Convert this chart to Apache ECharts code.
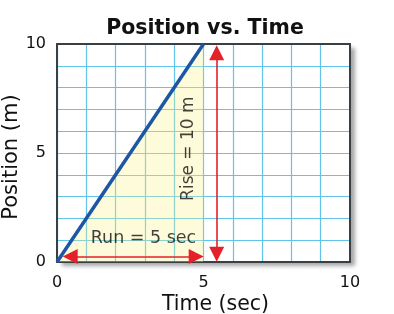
<!DOCTYPE html>
<html><head><meta charset="utf-8">
<script src="https://cdn.jsdelivr.net/npm/echarts@6/dist/echarts.min.js"></script>
<style>html,body{margin:0;padding:0;background:#fff}#c{width:394px;height:314px}</style>
</head><body><div id="c"></div>
<script>
const title = 'Position vs. Time';
const xName = 'Time (sec)';
const yName = 'Position (m)';
const positionLine = [[0, 0], [5, 10]];
const runArrow = [[0.45, 0.25], [4.75, 0.25]];
const riseArrow = [[5.45, 0.35], [5.45, 9.6]];
const runLabel = [[2.95, 1.1, 'Run = 5 sec']];
const riseLabel = [[4.5, 5.2, 'Rise = 10 m']];
const xLabelTicks = [0, 5, 10];
const yLabelTicks = [0, 5, 10];

const font = 'DejaVu Sans, Verdana, sans-serif';
const chart = echarts.init(document.getElementById('c'));
const border = { show: true, onZero: false, lineStyle: { color: '#3a3f44', width: 2 } };
chart.setOption({
  animation: false,
  title: { text: title, left: 200, textAlign: 'center', top: 13,
    textStyle: { fontFamily: font, fontWeight: 'bold', fontSize: 20.5, color: '#111' } },
  grid: { left: 57, top: 44, right: 44, bottom: 52, show: true, outerBoundsMode: 'none',
    containLabel: false,
    backgroundColor: '#fff', borderWidth: 0,
    shadowColor: 'rgba(0,0,0,0.35)', shadowBlur: 4, shadowOffsetX: 5, shadowOffsetY: 4 },
  xAxis: [{ type: 'value', min: 0, max: 10, interval: 1,
    name: xName, nameLocation: 'middle', nameGap: 32, nameMoveOverlap: false,
    nameTextStyle: { fontFamily: font, fontSize: 20.5, color: '#111', padding: [0, 0, 0, 24] },
    axisLine: border, axisTick: { show: false },
    axisLabel: { fontFamily: font, fontSize: 16, color: '#111', margin: 13,
      formatter: v => xLabelTicks.includes(v) ? String(v) : '' },
    splitLine: { lineStyle: { color: '#62c4ea', width: 1.2 } } },
    { type: 'value', position: 'top', min: 0, max: 10, axisLine: border,
      axisTick: { show: false }, axisLabel: { show: false }, splitLine: { show: false } }],
  yAxis: [{ type: 'value', min: 0, max: 10, interval: 1,
    name: yName, nameLocation: 'middle', nameGap: 35, nameMoveOverlap: false,
    nameTextStyle: { fontFamily: font, fontSize: 21, color: '#111', padding: [0, 8, 0, 0] },
    axisLine: border, axisTick: { show: false },
    axisLabel: { fontFamily: font, fontSize: 16, color: '#111', margin: 11,
      formatter: v => yLabelTicks.includes(v) ? String(v) : '' },
    splitLine: { lineStyle: { color: '#62c4ea', width: 1.2 } } },
    { type: 'value', position: 'right', min: 0, max: 10, axisLine: border,
      axisTick: { show: false }, axisLabel: { show: false }, splitLine: { show: false } }],
  series: [
    { type: 'line', data: positionLine, symbol: 'none', z: 3,
      lineStyle: { color: '#1c57a3', width: 3.5 },
      areaStyle: { color: 'rgba(250,242,130,0.42)', origin: 'start' } },
    { type: 'line', data: [], symbol: 'none', z: 4,
      markLine: { silent: true, symbol: ['triangle', 'triangle'], symbolSize: [15, 15],
        label: { show: false },
        lineStyle: { color: '#e4202a', width: 1.6, type: 'solid' },
        data: [
          [{ coord: runArrow[0] }, { coord: runArrow[1] }],
          [{ coord: riseArrow[0] }, { coord: riseArrow[1] }]
        ] } },
    { type: 'scatter', data: runLabel, symbolSize: 0, z: 5,
      label: { show: true, position: 'inside', formatter: p => p.data[2],
        fontFamily: font, fontSize: 17.5, color: '#111' } },
    { type: 'scatter', data: riseLabel, symbolSize: 0, z: 5,
      label: { show: true, position: 'inside', rotate: 90, align: 'center', verticalAlign: 'middle',
        formatter: p => p.data[2], fontFamily: font, fontSize: 17, color: '#111' } }
  ]
});
</script></body></html>
